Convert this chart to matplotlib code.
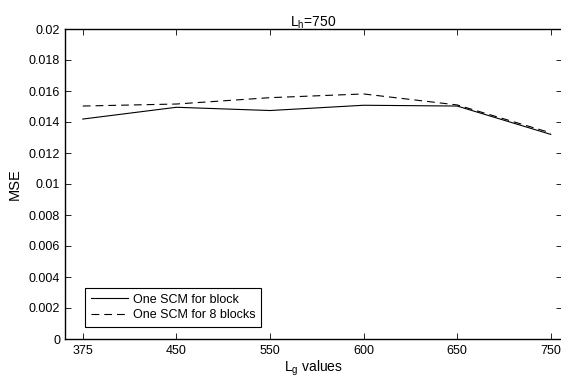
import matplotlib
matplotlib.use("Agg")
import matplotlib.pyplot as plt

# Window lengths on the x axis (plotted at evenly spaced positions)
lg_labels = ["375", "450", "550", "600", "650", "750"]
positions = [1, 2, 3, 4, 5, 6]

# MSE per window length
mse_one_scm_block = [0.01419, 0.01495, 0.01474, 0.01508, 0.01503, 0.01320]
mse_one_scm_8_blocks = [0.01503, 0.01516, 0.01557, 0.01581, 0.01510, 0.01330]

yticks = [0, 0.002, 0.004, 0.006, 0.008, 0.01, 0.012, 0.014, 0.016, 0.018, 0.02]
ytick_labels = ["0", "0.002", "0.004", "0.006", "0.008", "0.01", "0.012",
                "0.014", "0.016", "0.018", "0.02"]

plt.rcParams["font.family"] = ["Liberation Sans", "DejaVu Sans"]

fig = plt.figure(figsize=(5.61, 3.84), dpi=100)
ax = fig.add_axes([65 / 561, 1 - 339 / 384, (562 - 65) / 561, (339 - 29) / 384])

ax.plot(positions, mse_one_scm_block, color="black", linewidth=0.8,
        linestyle="-", label="One SCM for block")
ax.plot(positions, mse_one_scm_8_blocks, color="black", linewidth=0.8,
        linestyle=(0, (7, 4.5)), label="One SCM for 8 blocks")

ax.set_xlim(0.81, 6.12)
ax.set_ylim(0, 0.02)
ax.set_xticks(positions)
ax.set_xticklabels(lg_labels)
ax.set_yticks(yticks)
ax.set_yticklabels(ytick_labels)

ax.tick_params(direction="in", length=4, width=0.6, labelsize=9,
               top=True, right=True)
ax.tick_params(axis="x", pad=4.5)
ax.tick_params(axis="y", pad=3.5)
for s in ax.spines.values():
    s.set_linewidth(1.0)

ax.set_title(r"L$_{\mathregular{h}}$=750", fontsize=10, pad=2)
ax.set_xlabel(r"L$_{\mathregular{g}}$ values", fontsize=10, labelpad=1)
ax.set_ylabel("MSE", fontsize=10.5, labelpad=5)

leg = ax.legend(loc="lower left", bbox_to_anchor=(0.0402, 0.0387), fontsize=9,
                frameon=True, fancybox=False, edgecolor="black",
                framealpha=1, handlelength=3.0, borderpad=0.45,
                labelspacing=0.3, handletextpad=0.4, borderaxespad=0)
leg.get_frame().set_linewidth(0.8)

fig.savefig("out.png", dpi=100)
